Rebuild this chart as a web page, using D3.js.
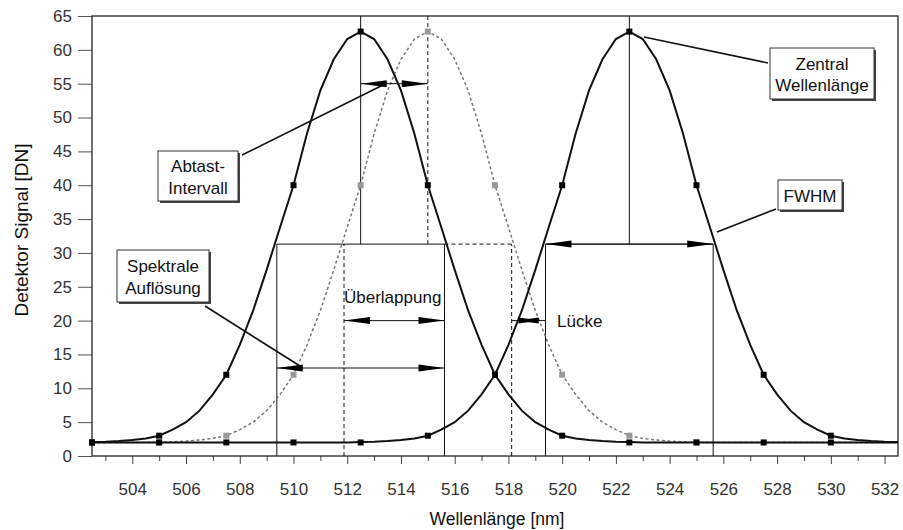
<!DOCTYPE html>
<html>
<head>
<meta charset="utf-8">
<script src="https://cdn.jsdelivr.net/npm/d3@7"></script>
<style>
  html, body { margin: 0; padding: 0; background: #fff; }
  svg { display: block; font-family: "Liberation Sans", Arial, sans-serif; }
</style>
</head>
<body>
<svg id="chart" width="903" height="530"></svg>
<script>
// Wavelength grid of the three filter response curves (nm)
const wavelengths = d3.range(502.5, 532.51, 0.5);

// Response of band 1 (centre 512.5 nm), detector signal in DN
const band1 = [2.05, 2.1, 2.2, 2.35, 2.6, 3.0, 3.9, 5.0, 6.7, 9.1, 12.0, 16.4, 21.5, 27.5, 33.8, 40.0, 47.6, 54.0, 58.6, 61.6,
  62.7,
  61.6, 58.6, 54.0, 47.6, 40.0, 33.8, 27.5, 21.5, 16.4, 12.0, 9.1, 6.7, 5.0, 3.9, 3.0, 2.6, 2.35, 2.2, 2.1, 2.05,
  2, 2, 2, 2, 2, 2, 2, 2, 2, 2, 2, 2, 2, 2, 2, 2, 2, 2, 2, 2];

// Response of band 2 (centre 515 nm), drawn dashed
const band2 = [2, 2, 2, 2, 2,
  2.05, 2.1, 2.2, 2.35, 2.6, 3.0, 3.9, 5.0, 6.7, 9.1, 12.0, 16.4, 21.5, 27.5, 33.8, 40.0, 47.6, 54.0, 58.6, 61.6,
  62.7,
  61.6, 58.6, 54.0, 47.6, 40.0, 33.8, 27.5, 21.5, 16.4, 12.0, 9.1, 6.7, 5.0, 3.9, 3.0, 2.6, 2.35, 2.2, 2.1, 2.05,
  2, 2, 2, 2, 2, 2, 2, 2, 2, 2, 2, 2, 2, 2, 2];

// Response of band 3 (centre 522.5 nm)
const band3 = [2, 2, 2, 2, 2, 2, 2, 2, 2, 2, 2, 2, 2, 2, 2, 2, 2, 2, 2, 2,
  2.05, 2.1, 2.2, 2.35, 2.6, 3.0, 3.9, 5.0, 6.7, 9.1, 12.0, 16.4, 21.5, 27.5, 33.8, 40.0, 47.6, 54.0, 58.6, 61.6,
  62.7,
  61.6, 58.6, 54.0, 47.6, 40.0, 33.8, 27.5, 21.5, 16.4, 12.0, 9.1, 6.7, 5.0, 3.9, 3.0, 2.6, 2.35, 2.2, 2.1, 2.05];

// Sampled detector readings (square markers)
const sampleWl = [502.5, 505, 507.5, 510, 512.5, 515, 517.5, 520, 522.5, 525, 527.5, 530];
const band1Samples = [2, 3, 12, 40, 62.7, 40, 12, 3, 2, 2, 2, 2];
const band3Samples = [2, 2, 2, 2, 2, 3, 12, 40, 62.7, 40, 12, 3];
const band2SampleWl = [505, 507.5, 510, 512.5, 515, 517.5, 520, 522.5, 525];
const band2Samples = [2, 3, 12, 40, 62.7, 40, 12, 3, 2];

// Band centres, half-maximum edges and half-maximum level
const centres = [512.5, 515, 522.5];
const fwhmEdges = [[509.38, 515.62], [511.88, 518.12], [519.38, 525.62]];
const halfLevel = 31.3;

// Annotation arrow levels (DN)
const samplingLevel = 55;
const overlapLevel = 20;
const resolutionLevel = 13;

// Axis ticks
const xMajorTicks = [504, 506, 508, 510, 512, 514, 516, 518, 520, 522, 524, 526, 528, 530, 532];
const xMinorTicks = [503, 505, 507, 509, 511, 513, 515, 517, 519, 521, 523, 525, 527, 529, 531];
const yTicks = [0, 5, 10, 15, 20, 25, 30, 35, 40, 45, 50, 55, 60, 65];

const svg = d3.select("#chart");
const plot = { left: 92, right: 898, top: 16, bottom: 456 };

const x = d3.scaleLinear().domain([502.5, 532.5]).range([plot.left, plot.right]);
const y = d3.scaleLinear().domain([0, 65]).range([plot.bottom, plot.top]);

const ink = "#111";
const FONT = 17;

// ---- axes ----
const yAxis = svg.append("g")
  .attr("transform", `translate(${plot.left},0)`)
  .call(d3.axisLeft(y).tickValues(yTicks).tickSize(14).tickPadding(6).tickFormat(d3.format("d")));
yAxis.select(".domain").remove();
yAxis.selectAll(".tick line").attr("stroke", "#555");
yAxis.selectAll(".tick text").attr("font-size", FONT).attr("fill", "#333")
  .attr("font-family", "Liberation Sans, Arial, sans-serif");

const xAxis = svg.append("g")
  .attr("transform", `translate(0,${plot.bottom})`)
  .call(d3.axisBottom(x).tickValues(xMajorTicks).tickSize(8).tickPadding(19).tickFormat(d3.format("d")));
xAxis.select(".domain").remove();
xAxis.selectAll(".tick line").attr("stroke", "#444");
xAxis.selectAll(".tick text").attr("font-size", FONT).attr("fill", "#333")
  .attr("font-family", "Liberation Sans, Arial, sans-serif");

const xMinor = svg.append("g")
  .attr("transform", `translate(0,${plot.bottom})`)
  .call(d3.axisBottom(x).tickValues(xMinorTicks).tickSize(5).tickFormat(""));
xMinor.select(".domain").remove();
xMinor.selectAll(".tick line").attr("stroke", "#444");

// plot frame
svg.append("rect")
  .attr("x", plot.left).attr("y", plot.top)
  .attr("width", plot.right - plot.left).attr("height", plot.bottom - plot.top)
  .attr("fill", "none").attr("stroke", ink).attr("stroke-width", 1.2);

// axis titles
svg.append("text")
  .attr("x", (plot.left + plot.right) / 2 + 2).attr("y", 525)
  .attr("text-anchor", "middle").attr("font-size", 17.5).attr("fill", "#111")
  .text("Wellenlänge [nm]");
svg.append("text")
  .attr("transform", "translate(28,230) rotate(-90)")
  .attr("text-anchor", "middle").attr("font-size", 19).attr("fill", "#111")
  .text("Detektor Signal [DN]");

// ---- guide lines (FWHM boxes, centre lines) ----
const guides = svg.append("g").attr("fill", "none").attr("stroke", ink).attr("stroke-width", 1);

function vline(wl, v0, v1, dashed) {
  guides.append("line")
    .attr("x1", x(wl)).attr("x2", x(wl)).attr("y1", y(v0)).attr("y2", y(v1))
    .attr("stroke-dasharray", dashed ? "4,3" : null);
}
function hline(w0, w1, v, dashed) {
  guides.append("line")
    .attr("x1", x(w0)).attr("x2", x(w1)).attr("y1", y(v)).attr("y2", y(v))
    .attr("stroke-dasharray", dashed ? "4,3" : null);
}
// band 1 and band 3 (solid)
[0, 2].forEach(i => {
  vline(fwhmEdges[i][0], 0, halfLevel, false);
  vline(fwhmEdges[i][1], 0, halfLevel, false);
  hline(fwhmEdges[i][0], fwhmEdges[i][1], halfLevel, false);
  vline(centres[i], halfLevel, 65, false);
});
// band 2 (dashed)
vline(fwhmEdges[1][0], 0, halfLevel, true);
vline(fwhmEdges[1][1], 0, halfLevel, true);
hline(fwhmEdges[0][1], fwhmEdges[1][1], halfLevel, true);
vline(centres[1], halfLevel, 65, true);

// ---- curves ----
const line = d3.line().x(d => x(d[0])).y(d => y(d[1]));
const zip = (xs, ys) => xs.map((v, i) => [v, ys[i]]);

svg.append("path")
  .attr("d", line(zip(wavelengths, band2)))
  .attr("fill", "none").attr("stroke", "#777").attr("stroke-width", 1.5)
  .attr("stroke-dasharray", "3,2.5");

function markers(xs, ys, color) {
  svg.append("g").selectAll("rect")
    .data(zip(xs, ys)).join("rect")
    .attr("x", d => x(d[0]) - 3).attr("y", d => y(d[1]) - 3)
    .attr("width", 6).attr("height", 6).attr("fill", color);
}
markers(band2SampleWl, band2Samples, "#999");

[band1, band3].forEach(b => {
  svg.append("path")
    .attr("d", line(zip(wavelengths, b)))
    .attr("fill", "none").attr("stroke", ink).attr("stroke-width", 2);
});
markers(sampleWl, band1Samples, "#000");
markers(sampleWl, band3Samples, "#000");

// ---- arrows ----
const arrows = svg.append("g");
function head(xTip, yy, dir, len = 26, w = 3.5) {
  arrows.append("path")
    .attr("d", `M${xTip},${yy}L${xTip - dir * len},${yy - w}L${xTip - dir * len},${yy + w}Z`)
    .attr("fill", "#000");
}
function dimArrow(w0, w1, v) {
  const yy = y(v);
  arrows.append("line").attr("x1", x(w0)).attr("x2", x(w1)).attr("y1", yy).attr("y2", yy)
    .attr("stroke", ink).attr("stroke-width", 1);
  head(x(w0), yy, -1);
  head(x(w1), yy, 1);
}
dimArrow(centres[0], centres[1], samplingLevel);             // Abtast-Intervall
dimArrow(fwhmEdges[1][0], fwhmEdges[0][1], overlapLevel);     // Überlappung
dimArrow(fwhmEdges[0][0], fwhmEdges[0][1], resolutionLevel);  // Spektrale Auflösung
dimArrow(fwhmEdges[2][0], fwhmEdges[2][1], halfLevel);        // FWHM
// gap between band 2 and band 3: arrows pointing inwards
{
  const yy = y(overlapLevel);
  arrows.append("line").attr("x1", x(fwhmEdges[1][1])).attr("x2", x(fwhmEdges[2][0]))
    .attr("y1", yy).attr("y2", yy).attr("stroke", ink);
  head(x(fwhmEdges[2][0]) - 5, yy, 1, 22, 3);
  head(x(fwhmEdges[1][1]) + 5, yy, -1, 22, 3);
}

// ---- leader lines ----
const leaders = [
  [[242, 155], [387, 83]],
  [[205, 306], [300, 366]],
  [[768, 63], [644, 37]],
  [[776, 209], [717, 232]]
];
svg.append("g").selectAll("line").data(leaders).join("line")
  .attr("x1", d => d[0][0]).attr("y1", d => d[0][1])
  .attr("x2", d => d[1][0]).attr("y2", d => d[1][1])
  .attr("stroke", ink).attr("stroke-width", 1.6);

// ---- callout boxes ----
function callout(bx, by, bw, bh, lines, baselines) {
  const g = svg.append("g");
  g.append("rect").attr("x", bx + 2).attr("y", by + 2).attr("width", bw).attr("height", bh).attr("fill", "#444");
  g.append("rect").attr("x", bx).attr("y", by).attr("width", bw).attr("height", bh)
    .attr("fill", "#fff").attr("stroke", "#333").attr("stroke-width", 1);
  lines.forEach((t, i) => {
    g.append("text").attr("x", bx + bw / 2).attr("y", baselines[i])
      .attr("text-anchor", "middle").attr("font-size", FONT).attr("fill", "#111").text(t);
  });
}
callout(158, 151, 80, 50, ["Abtast-", "Intervall"], [172, 194]);
callout(117, 250, 92, 52, ["Spektrale", "Auflösung"], [272, 294]);
callout(770, 48, 104, 51, ["Zentral", "Wellenlänge"], [70, 91]);
callout(778, 180, 64, 30, ["FWHM"], [202]);

// free labels
svg.append("text").attr("x", x(fwhmEdges[1][0])).attr("y", 303)
  .attr("font-size", FONT).attr("fill", "#111").text("Überlappung");
svg.append("text").attr("x", 557).attr("y", 327)
  .attr("font-size", FONT).attr("fill", "#111").text("Lücke");
</script>
</body>
</html>
